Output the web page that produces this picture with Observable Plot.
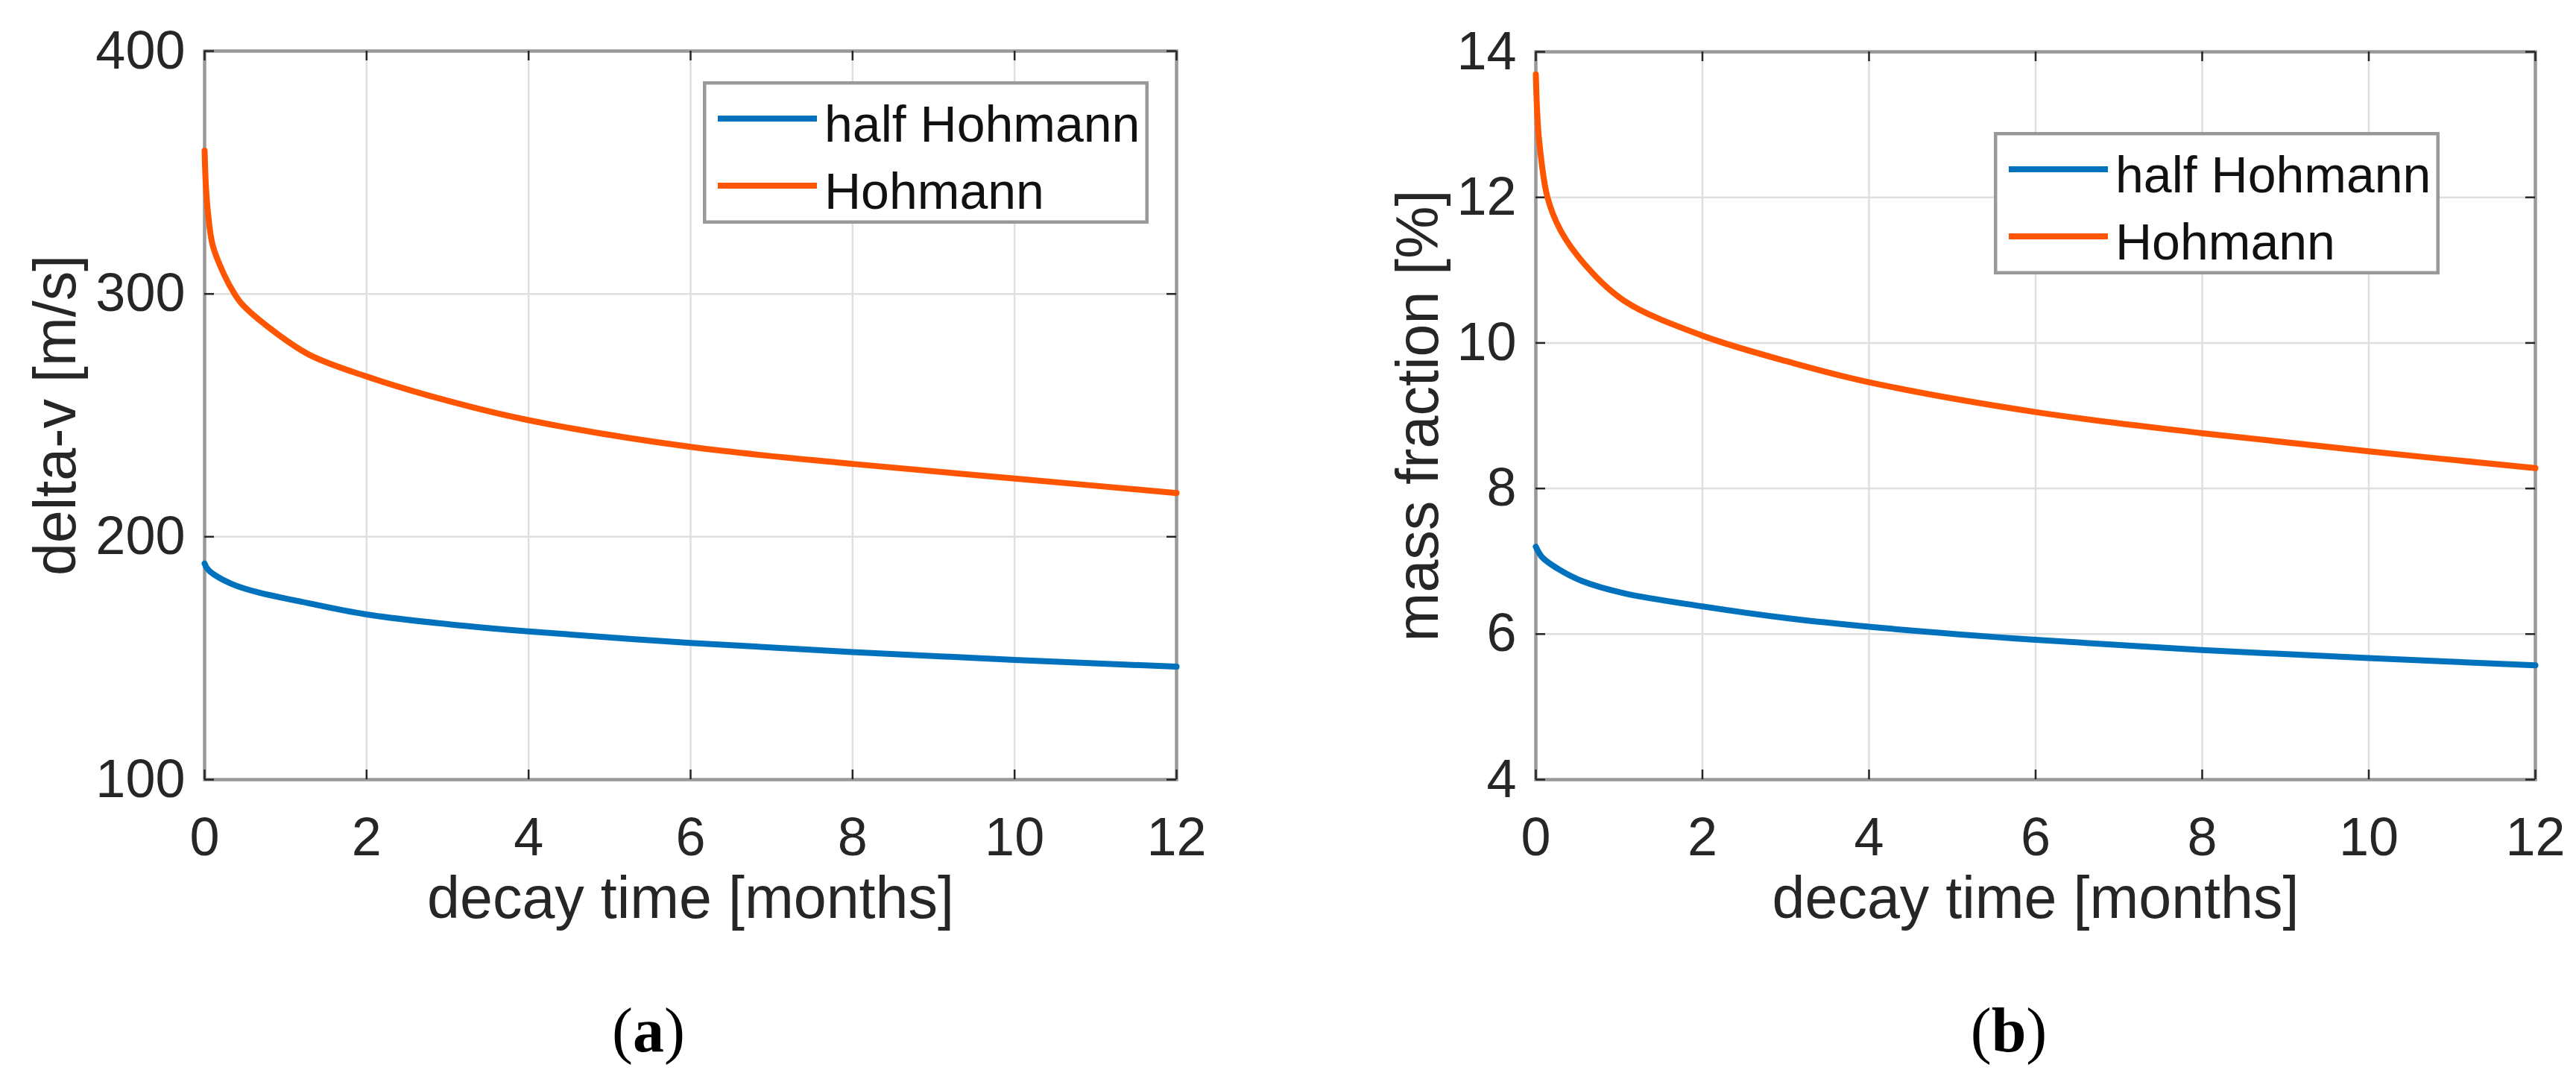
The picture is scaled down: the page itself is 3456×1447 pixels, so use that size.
<!DOCTYPE html>
<html>
<head>
<meta charset="utf-8">
<script src="https://cdn.jsdelivr.net/npm/d3@7"></script>
<script src="https://cdn.jsdelivr.net/npm/@observablehq/plot@0.6"></script>
<style>
  html, body { margin: 0; padding: 0; background: #fff; }
  #page { position: relative; width: 3456px; height: 1447px; overflow: hidden; background: #fff; }
  .panel { position: absolute; top: 0; width: 1728px; height: 1447px; }
  .legend { position: absolute; overflow: visible; }
  .caption {
    position: absolute; width: 200px; text-align: center;
    font-family: "Liberation Serif", "Times New Roman", serif;
    font-size: 84px; line-height: 84px; color: #000;
  }
</style>
</head>
<body>
<div id="page">
  <div class="panel" id="panel-a" style="left:0px"></div>
  <div class="panel" id="panel-b" style="left:1728px"></div>
</div>
<script>
// series names and shared ticks
const SERIES = ["half Hohmann", "Hohmann"];
const X_TICKS = [0, 2, 4, 6, 8, 10, 12];

// (a) delta-v [m/s] vs decay time [months]
const tHalfA = [0, 0.03, 0.1, 0.34, 0.67, 1.16, 2, 3, 4, 6, 8, 10, 12];
const dvHalf = [189, 187, 184.8, 180.5, 177, 173.5, 168, 164, 161, 156.3, 152.5, 149.3, 146.5];
const tFullA = [0, 0.015, 0.04, 0.1, 0.24, 0.37, 0.47, 0.8, 1.29, 2, 3, 4, 6, 8, 10, 12];
const dvFull = [359, 345, 334, 320, 308, 300, 295.5, 286, 275, 266, 256, 248, 237, 230, 224, 218];
const DV_TICKS = [100, 200, 300, 400];

// (b) mass fraction [%] vs decay time [months]
const tHalfB = [0, 0.08, 0.26, 0.55, 1.06, 2, 3, 4, 6, 8, 10, 12];
const mfHalf = [7.2, 7.05, 6.9, 6.73, 6.56, 6.38, 6.22, 6.1, 5.92, 5.78, 5.67, 5.57];
const tFullB = [0, 0.015, 0.04, 0.14, 0.3, 0.58, 1.06, 2, 3.07, 4, 6, 8, 10, 12];
const mfFull = [13.69, 13.2, 12.78, 12.0, 11.54, 11.09, 10.58, 10.1, 9.73, 9.46, 9.05, 8.76, 8.51, 8.28];
const MF_TICKS = [4, 6, 8, 10, 12, 14];

const COLORS = ["#0072BD", "#FF5500"];
const FONT = '"Liberation Sans", Arial, Helvetica, sans-serif';
const INK = "#262626";

const W = 1728, H = 1290, TICK = 13;


function toRows(ts, vs) {
    return ts.map((t, i) => ({ t: t, v: vs[i] }));
}


function drawPanel(p) {
    let m = p.margin;
    let frameW = W - m.left - m.right;
    let frameH = H - m.top - m.bottom;

    let linemarks = p.curves.map((c, i) =>
        Plot.line(toRows(c[0], c[1]), { x: "t", y: "v", stroke: COLORS[i], strokeWidth: 8, curve: "catmull-rom" }));

    let chart = Plot.plot({
        width: W,
        height: H,
        marginLeft: m.left,
        marginRight: m.right,
        marginTop: m.top,
        marginBottom: m.bottom,
        style: { fontFamily: FONT, color: INK, background: "transparent", overflow: "visible" },
        x: { domain: [0, 12] },
        y: { domain: p.yDomain },
        marks: [
            Plot.gridX(X_TICKS, { stroke: "#dfdfdf", strokeOpacity: 1, strokeWidth: 2.5 }),
            Plot.gridY(p.yTicks, { stroke: "#dfdfdf", strokeOpacity: 1, strokeWidth: 2.5 }),
            Plot.frame({ stroke: "#999999", strokeWidth: 4.5 }),
            // MATLAB-style inward ticks on all four sides
            Plot.ruleX(X_TICKS, { insetTop: frameH - TICK, stroke: INK, strokeWidth: 2.5 }),
            Plot.ruleX(X_TICKS, { insetBottom: frameH - TICK, stroke: INK, strokeWidth: 2.5 }),
            Plot.ruleY(p.yTicks, { insetRight: frameW - TICK, stroke: INK, strokeWidth: 2.5 }),
            Plot.ruleY(p.yTicks, { insetLeft: frameW - TICK, stroke: INK, strokeWidth: 2.5 }),
            ...linemarks,
            Plot.axisX(X_TICKS, { tickSize: 0, tickPadding: 50, label: null, fontSize: 72, tickFormat: d => String(d) }),
            Plot.axisY(p.yTicks, { tickSize: 0, tickPadding: 26, label: null, fontSize: 72, tickFormat: d => String(d) }),
            Plot.text(["decay time [months]"], { text: d => d, frameAnchor: "bottom", textAnchor: "middle", dy: 185, fontSize: 79, fill: INK }),
            Plot.text([p.yLabel], { text: d => d, frameAnchor: "left", textAnchor: "middle", dx: p.yLabelDx, rotate: -90, fontSize: 79, fill: INK })
        ]
    });

    let el = document.getElementById(p.id);
    el.append(chart);

    // legend box, drawn over the plot like MATLAB's
    let lg = d3.select(el).append("svg")
        .attr("class", "legend")
        .attr("width", 598).attr("height", 191)
        .style("left", p.legend[0] + "px").style("top", p.legend[1] + "px");
    lg.append("rect")
        .attr("x", 2.25).attr("y", 2.25).attr("width", 598 - 4.5).attr("height", 191 - 4.5)
        .attr("fill", "#fff").attr("stroke", "#999999").attr("stroke-width", 4.5);
    SERIES.forEach((name, i) => {
        let yy = 50 + i * 90;
        lg.append("line")
            .attr("x1", 20).attr("x2", 153).attr("y1", yy).attr("y2", yy)
            .attr("stroke", COLORS[i]).attr("stroke-width", 8);
        lg.append("text")
            .attr("x", 163).attr("y", yy + 31)
            .attr("font-family", FONT).attr("font-size", 68).attr("fill", "#111")
            .text(name);
    });

    d3.select(el).append("div")
        .attr("class", "caption")
        .style("left", (p.captionX - 100) + "px").style("top", "1340px")
        .html("(<b>" + p.caption + "</b>)");
}


drawPanel({
    id: "panel-a",
    margin: { left: 274, right: 150, top: 68, bottom: 245 },
    yDomain: [100, 400],
    yTicks: DV_TICKS,
    yLabel: "delta-v [m/s]",
    yLabelDx: -199,
    curves: [[tHalfA, dvHalf], [tFullA, dvFull]],
    legend: [943, 109],
    caption: "a",
    captionX: 870
});

drawPanel({
    id: "panel-b",
    margin: { left: 332, right: 55, top: 69, bottom: 245 },
    yDomain: [4, 14],
    yTicks: MF_TICKS,
    yLabel: "mass fraction [%]",
    yLabelDx: -157,
    curves: [[tHalfB, mfHalf], [tFullB, mfFull]],
    legend: [947, 177],
    caption: "b",
    captionX: 967
});
</script>
</body>
</html>
